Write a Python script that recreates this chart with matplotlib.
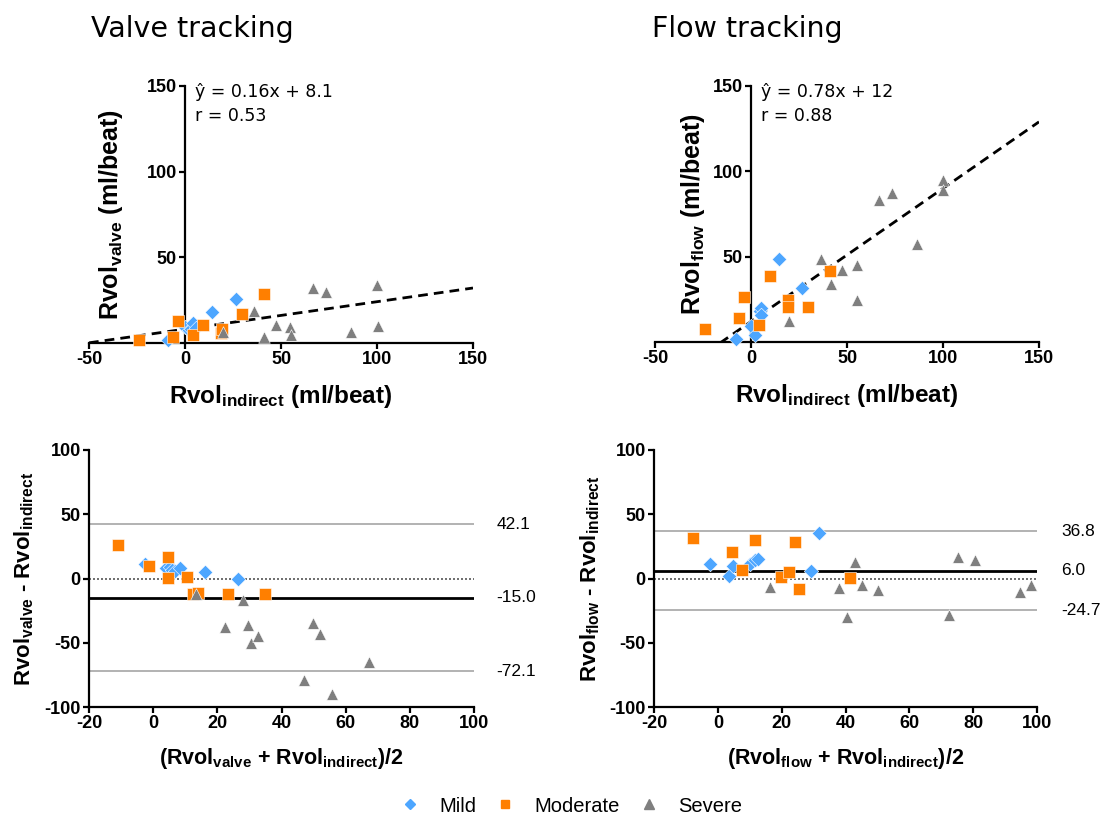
import matplotlib
matplotlib.use('Agg')

import matplotlib.pyplot as plt
from matplotlib.lines import Line2D
from matplotlib.transforms import blended_transform_factory

plt.rcParams['font.family'] = 'Liberation Sans'
plt.rcParams['mathtext.default'] = 'regular'
plt.rcParams['axes.unicode_minus'] = False

BLUE = '#4da6ff'
ORANGE = '#ff7f00'
GRAY = '#7f7f7f'

# --- Valve tracking: Rvol_indirect (x) vs Rvol_valve (y)
valve_mild_x = [-8.7, 0.0, 2.0, 3.0, 4.3, 5.5, 14.2, 26.6]
valve_mild_y = [1.8, 9.5, 7.5, 8.0, 11.5, 9.0, 18.3, 25.7]
valve_mod_x = [-23.8, -6.1, -3.8, 4.3, 9.5, 18.5, 19.5, 29.5, 41.1]
valve_mod_y = [1.8, 3.7, 12.9, 4.7, 10.5, 6.0, 8.4, 16.8, 28.5]
valve_sev_x = [19.6, 36.1, 41.3, 47.4, 54.7, 55.0, 66.8, 73.3, 86.5, 99.8, 100.4]
valve_sev_y = [6.6, 18.9, 3.3, 10.5, 9.5, 4.7, 32.0, 29.6, 6.3, 33.9, 10.1]
valve_fit = (0.16, 8.1)
valve_r = 0.53

# --- Flow tracking: Rvol_indirect (x) vs Rvol_flow (y)
flow_mild_x = [-7.8, 0.0, 2.1, 4.7, 5.2, 5.0, 14.4, 26.7]
flow_mild_y = [1.8, 9.5, 4.1, 18.3, 19.7, 15.8, 48.5, 31.4]
flow_mod_x = [-23.8, -6.1, -3.5, 4.3, 9.9, 19.4, 19.1, 29.9, 41.1]
flow_mod_y = [7.4, 14.2, 26.5, 10.1, 38.8, 24.6, 20.3, 20.6, 41.7]
flow_sev_x = [19.9, 36.5, 41.7, 47.6, 55.1, 55.4, 66.8, 73.3, 86.3, 100.2, 99.9]
flow_sev_y = [12.3, 48.5, 33.9, 42.1, 45.4, 24.6, 83.0, 87.3, 57.3, 94.9, 89.0]
flow_fit = (0.78, 12)
flow_r = 0.88

# --- Bland-Altman, valve
ba_valve_mild_x = [-2.6, 4.1, 5.4, 5.8, 6.9, 8.3, 16.3, 26.5]
ba_valve_mild_y = [10.9, 8.3, 8.8, 6.5, 5.7, 8.3, 5.2, -0.3]
ba_valve_mod_x = [-10.9, -1.4, 4.7, 4.5, 10.4, 12.3, 13.9, 23.4, 35.0]
ba_valve_mod_y = [25.9, 10.1, 16.8, 0.5, 1.0, -12.4, -11.1, -12.4, -12.4]
ba_valve_sev_x = [13.4, 22.5, 28.0, 29.5, 30.5, 32.7, 46.9, 49.8, 51.9, 55.8, 67.4]
ba_valve_sev_y = [-12.4, -37.6, -17.1, -36.5, -50.0, -44.8, -79.3, -34.4, -43.0, -89.6, -65.0]
ba_valve_lines = (42.1, -15.0, -72.1)

# --- Bland-Altman, flow
ba_flow_mild_x = [-2.5, 3.4, 4.6, 10.0, 11.6, 12.6, 29.3, 31.7]
ba_flow_mild_y = [10.9, 1.8, 10.1, 10.9, 14.2, 14.8, 5.7, 35.5]
ba_flow_mod_x = [-7.9, 4.4, 7.5, 11.6, 19.7, 22.2, 24.1, 25.5, 41.5]
ba_flow_mod_y = [31.6, 21.0, 6.5, 30.3, 1.3, 5.2, 28.5, -8.5, 0.5]
ba_flow_sev_x = [16.5, 38.0, 40.5, 42.9, 45.1, 50.3, 72.3, 75.2, 80.5, 94.6, 98.0]
ba_flow_sev_y = [-6.7, -7.3, -29.8, 12.7, -5.4, -9.3, -28.5, 16.9, 14.2, -10.3, -5.2]
ba_flow_lines = (36.8, 6.0, -24.7)

W, H = 1100, 818
fig = plt.figure(figsize=(11, 8.18), dpi=100)


def px_axes(x0, y_top, x1, y_bot):
    return fig.add_axes([x0 / W, 1 - y_bot / H, (x1 - x0) / W, (y_bot - y_top) / H])


def style(ax):
    for s in ['top', 'right']:
        ax.spines[s].set_visible(False)
    for s in ['left', 'bottom']:
        ax.spines[s].set_linewidth(1.6)
    ax.tick_params(width=1.6, length=4, labelsize=13, pad=2)
    for lab in ax.get_xticklabels() + ax.get_yticklabels():
        lab.set_fontweight('bold')


def points(ax, mx, my, ox, oy, sx, sy):
    kw = dict(edgecolor='white', linewidths=0.4, zorder=3, clip_on=False)
    ax.scatter(mx, my, marker='D', s=55, color=BLUE, **kw)
    ax.scatter(ox, oy, marker='s', s=68, color=ORANGE, **kw)
    ax.scatter(sx, sy, marker='^', s=70, color=GRAY, **kw)


def scatter_panel(ax, mx, my, ox, oy, sx, sy, fit, r, sub, ylab_x):
    ax.set_xlim(-50, 150)
    ax.set_ylim(0, 150)
    ax.spines['left'].set_position(('data', 0))
    ax.set_xticks([-50, 0, 50, 100, 150])
    ax.set_yticks([50, 100, 150])
    xs = [-50, 150]
    ax.plot(xs, [fit[0] * v + fit[1] for v in xs], color='black', lw=2,
            ls=(0, (3.5, 2.2)), zorder=2)
    points(ax, mx, my, ox, oy, sx, sy)
    style(ax)
    ax.text(0.275, 0.958, 'ŷ = %gx + %g' % fit, transform=ax.transAxes,
            family='DejaVu Sans', fontsize=12.5, va='baseline')
    ax.text(0.275, 0.865, 'r = %.2f' % r, transform=ax.transAxes,
            family='DejaVu Sans', fontsize=12.5, va='baseline')
    ax.set_xlabel('Rvol$_{indirect}$ (ml/beat)', fontsize=17.5, fontweight='bold')
    ax.xaxis.set_label_coords(0.5, -0.155)
    ax.set_ylabel('Rvol$_{%s}$ (ml/beat)' % sub, fontsize=18, fontweight='bold')
    ax.yaxis.set_label_coords(ylab_x, 0.5)


def ba_panel(ax, mx, my, ox, oy, sx, sy, lines, sub, lab_x):
    ax.set_xlim(-20, 100)
    ax.set_ylim(-100, 100)
    ax.set_xticks(range(-20, 101, 20))
    ax.set_yticks(range(-100, 101, 50))
    hi, mean, lo = lines
    ax.axhline(hi, color='#a6a6a6', lw=1.2, zorder=1)
    ax.axhline(lo, color='#a6a6a6', lw=1.2, zorder=1)
    ax.axhline(0, color='#555555', lw=1.2, ls=(0, (1.2, 1.2)), zorder=1)
    ax.axhline(mean, color='black', lw=2, zorder=1)
    points(ax, mx, my, ox, oy, sx, sy)
    style(ax)
    tr = blended_transform_factory(ax.transAxes, ax.transData)
    for v in lines:
        ax.text(lab_x, v, '%.1f' % v, transform=tr, fontsize=12.5, va='center')
    ax.set_xlabel('(Rvol$_{%s}$ + Rvol$_{indirect}$)/2' % sub, fontsize=15.5,
                  fontweight='bold')
    ax.xaxis.set_label_coords(0.5, -0.15)
    ax.set_ylabel('Rvol$_{%s}$ - Rvol$_{indirect}$' % sub, fontsize=16,
                  fontweight='bold')
    ax.yaxis.set_label_coords(-0.137, 0.5)


ax1 = px_axes(89, 86, 473, 343)
scatter_panel(ax1, valve_mild_x, valve_mild_y, valve_mod_x, valve_mod_y,
              valve_sev_x, valve_sev_y, valve_fit, valve_r, 'valve', 0.093)

ax2 = px_axes(655, 86, 1039, 342)
scatter_panel(ax2, flow_mild_x, flow_mild_y, flow_mod_x, flow_mod_y,
              flow_sev_x, flow_sev_y, flow_fit, flow_r, 'flow', 0.135)

ax3 = px_axes(89, 450, 474, 707)
ba_panel(ax3, ba_valve_mild_x, ba_valve_mild_y, ba_valve_mod_x, ba_valve_mod_y,
         ba_valve_sev_x, ba_valve_sev_y, ba_valve_lines, 'valve', 1.058)

ax4 = px_axes(654, 450, 1037, 707)
ba_panel(ax4, ba_flow_mild_x, ba_flow_mild_y, ba_flow_mod_x, ba_flow_mod_y,
         ba_flow_sev_x, ba_flow_sev_y, ba_flow_lines, 'flow', 1.063)

fig.text(91 / W, 1 - 37 / H, 'Valve tracking', family='DejaVu Sans', fontsize=20.5,
         va='baseline')
fig.text(652 / W, 1 - 37 / H, 'Flow tracking', family='DejaVu Sans', fontsize=20.5,
         va='baseline')

handles = [
    Line2D([], [], ls='none', marker='D', color=BLUE, markersize=5.5, label='Mild'),
    Line2D([], [], ls='none', marker='s', color=ORANGE, markersize=6, label='Moderate'),
    Line2D([], [], ls='none', marker='^', color=GRAY, markersize=7, label='Severe'),
]
fig.legend(handles=handles, loc='center', bbox_to_anchor=(0.519, 1 - 806 / H),
           ncol=3, frameon=False, fontsize=14.5, handlelength=1.0,
           handletextpad=0.95, columnspacing=0.95)

fig.savefig('out.png', dpi=100)
plt.close(fig)
